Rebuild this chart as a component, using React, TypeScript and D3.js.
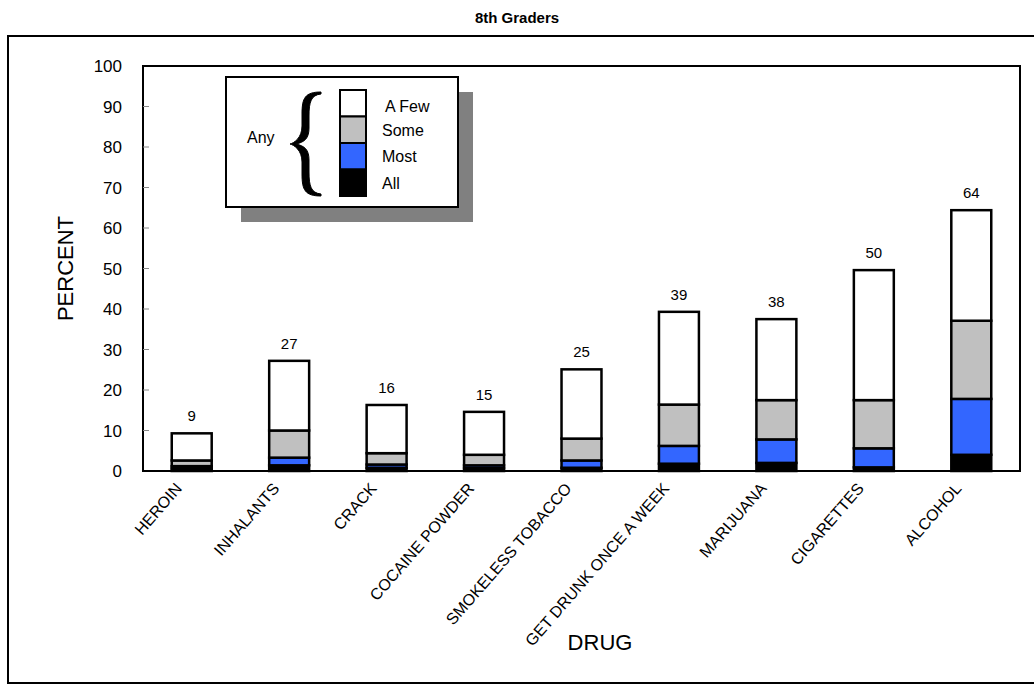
import React from "react";
import * as d3 from "d3";

const categories = ["HEROIN", "INHALANTS", "CRACK", "COCAINE POWDER", "SMOKELESS TOBACCO", "GET DRUNK ONCE A WEEK", "MARIJUANA", "CIGARETTES", "ALCOHOL"];
const allValues = [0.6, 1.4, 0.8, 0.7, 0.8, 1.8, 2.0, 0.9, 4.0];
const mostValues = [0.6, 1.9, 0.8, 0.7, 1.8, 4.4, 5.8, 4.7, 13.8];
const someValues = [1.4, 6.7, 2.8, 2.6, 5.4, 10.2, 9.7, 11.9, 19.3];
const fewValues = [6.7, 17.2, 11.9, 10.6, 17.1, 22.9, 20.0, 32.1, 27.3];
const totalLabels = ["9", "27", "16", "15", "25", "39", "38", "50", "64"];
const yTicks = [0, 10, 20, 30, 40, 50, 60, 70, 80, 90, 100];
const seriesNames = ["All", "Most", "Some", "A Few"];
const seriesColors = ["#000000", "#3366FF", "#C0C0C0", "#FFFFFF"];

const W = 1034;
const H = 688;
const plot = { left: 143, top: 66, right: 1020, bottom: 471 };
const FONT = "Arial, 'Liberation Sans', sans-serif";

export default function App() {
  const x = d3.scaleBand<string>().domain(categories).range([plot.left, plot.right]).paddingInner(0.59).paddingOuter(0.295);
  const y = d3.scaleLinear().domain([0, 100]).range([plot.bottom, plot.top]);
  const rows = categories.map((c, i) => ({
    cat: c,
    All: allValues[i],
    Most: mostValues[i],
    Some: someValues[i],
    "A Few": fewValues[i],
  }));
  const stack = d3.stack<any>().keys(seriesNames)(rows);
  const bw = x.bandwidth();

  const lg = { x: 226, y: 77, w: 232, h: 130 };
  const legendStack = { x: 340, y: 90, w: 26, h: 106 };
  const segH = legendStack.h / 4;
  const legendOrder = ["A Few", "Some", "Most", "All"];

  const xr = 321, xl = 290, yt = 92, yb = 196, ym = 144, xm = 305;
  const braceOuter = `M ${xr} ${yt} C ${xm} ${yt} ${xm - 3} ${yt + 6} ${xm - 3} ${yt + 22} L ${xm - 3} ${ym - 18} C ${xm - 3} ${ym - 6} ${xl + 4} ${ym - 1} ${xl} ${ym} C ${xl + 4} ${ym + 1} ${xm - 3} ${ym + 6} ${xm - 3} ${ym + 18} L ${xm - 3} ${yb - 22} C ${xm - 3} ${yb - 6} ${xm} ${yb} ${xr} ${yb} L ${xr} ${yb - 2} C ${xm + 6} ${yb - 3} ${xm + 4} ${yb - 10} ${xm + 4} ${yb - 24} L ${xm + 4} ${ym + 16} C ${xm + 4} ${ym + 6} ${xm} ${ym + 2} ${xl + 6} ${ym} C ${xm} ${ym - 2} ${xm + 4} ${ym - 6} ${xm + 4} ${ym - 16} L ${xm + 4} ${yt + 24} C ${xm + 4} ${yt + 10} ${xm + 6} ${yt + 3} ${xr} ${yt + 2} Z`;

  return (
    <svg width={W} height={H} style={{ position: "absolute", left: 0, top: 0, fontFamily: FONT }}>
      <rect x={0} y={0} width={W} height={H} fill="#fff" />
      <text x={517} y={23} textAnchor="middle" fontSize={15} fontWeight="bold">8th Graders</text>
      <rect x={8} y={36} width={1040} height={647} fill="none" stroke="#000" strokeWidth={2} />

      <rect x={plot.left} y={plot.top} width={plot.right - plot.left} height={plot.bottom - plot.top} fill="none" stroke="#000" strokeWidth={2} />

      {yTicks.map((t) => (
        <g key={t}>
          {t > 0 && t < 100 && <line x1={plot.left} x2={plot.left + 6} y1={y(t)} y2={y(t)} stroke="#888" strokeWidth={1} />}
          <text x={122} y={y(t)} dy="0.36em" textAnchor="end" fontSize={17}>{t}</text>
        </g>
      ))}
      <text transform={`translate(73, ${(plot.top + plot.bottom) / 2}) rotate(-90)`} textAnchor="middle" fontSize={22}>PERCENT</text>

      {stack.map((s, si) => (
        <g key={s.key}>
          {s.map((d, i) => (
            <rect key={i} x={x(categories[i])!} y={y(d[1])} width={bw} height={y(d[0]) - y(d[1])} fill={seriesColors[si]} stroke="#000" strokeWidth={2.5} />
          ))}
        </g>
      ))}
      {categories.map((c, i) => {
        const top = stack[stack.length - 1][i][1];
        return (
          <text key={c} x={x(c)! + bw / 2} y={y(top) - 12} textAnchor="middle" fontSize={15}>{totalLabels[i]}</text>
        );
      })}
      <line x1={plot.left} x2={plot.right} y1={plot.bottom} y2={plot.bottom} stroke="#000" strokeWidth={2} />

      {categories.map((c) => (
        <text key={c} transform={`translate(${x(c)! + bw / 2 - 9}, ${plot.bottom + 18}) rotate(-49)`} textAnchor="end" fontSize={16}>{c}</text>
      ))}
      <text x={600} y={650} textAnchor="middle" fontSize={22}>DRUG</text>

      <rect x={lg.x + 15} y={lg.y + 15} width={lg.w} height={lg.h} fill="#808080" />
      <rect x={lg.x} y={lg.y} width={lg.w} height={lg.h} fill="#fff" stroke="#000" strokeWidth={2} />
      {legendOrder.map((k, i) => (
        <g key={k}>
          <rect x={legendStack.x} y={legendStack.y + i * segH} width={legendStack.w} height={segH} fill={seriesColors[seriesNames.indexOf(k)]} stroke="#000" strokeWidth={2} />
          <text x={k === "A Few" ? 385 : 382} y={legendStack.y + i * segH + segH / 2 + (i === 0 ? 3 : 0)} dy="0.36em" fontSize={16}>{k}</text>
        </g>
      ))}
      <text x={247} y={137} dy="0.36em" fontSize={16}>Any</text>
      <path d={braceOuter} fill="#000" stroke="#000" strokeWidth={1} />
    </svg>
  );
}
